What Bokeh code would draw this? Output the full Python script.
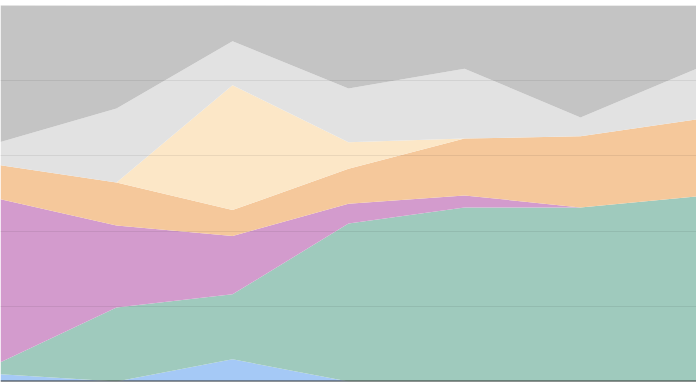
from bokeh.plotting import figure
from bokeh.models import ColumnDataSource, Range1d, Span
from bokeh.embed import file_html
from bokeh.resources import INLINE

# data (percent shares, stacked bottom -> top)
periods = [0, 1, 2, 3, 4, 5, 6]
blue = [1.9, 0.0, 5.9, 0.0, 0.0, 0.0, 0.0]
green = [3.2, 19.7, 17.3, 42.0, 46.3, 46.3, 49.2]
pink = [43.4, 21.8, 15.5, 5.3, 3.2, 0.0, 0.0]
orange = [9.0, 11.4, 6.9, 9.3, 15.1, 18.9, 20.5]
yellow = [0.0, 0.0, 33.2, 7.0, 0.0, 0.0, 0.0]
lightgray = [6.2, 19.7, 11.7, 14.3, 18.6, 5.0, 13.5]
darkgray = [36.4, 27.4, 9.6, 22.1, 16.8, 29.8, 16.8]

names = ["blue", "green", "pink", "orange", "yellow", "lightgray", "darkgray"]
colors = ["#a5c9f6", "#9fcabd", "#d39bcd", "#f5c89b", "#fce7c7", "#e2e2e2", "#c4c4c4"]

source = ColumnDataSource(dict(x=periods, blue=blue, green=green, pink=pink,
                               orange=orange, yellow=yellow,
                               lightgray=lightgray, darkgray=darkgray))

p = figure(width=696, height=385, output_backend="svg",
           toolbar_location=None,
           min_border_left=0, min_border_right=0,
           min_border_top=5, min_border_bottom=4,
           x_range=Range1d(0, 6), y_range=Range1d(0, 100),
           background_fill_color="white", border_fill_color="white")
p.outline_line_color = None
p.xaxis.visible = False
p.yaxis.visible = False

p.varea_stack(stackers=names, x="x", color=colors, source=source)

p.xgrid.visible = False
p.ygrid.ticker = [20, 40, 60, 80]
p.ygrid.grid_line_color = "#000000"
p.ygrid.grid_line_alpha = 0.07
p.ygrid.level = "overlay"

p.add_layout(Span(location=0, dimension="width", line_color="#333333", line_width=2))
p.add_layout(Span(location=100, dimension="width", line_color="#e6e6e6", line_width=1))

open("out.html", "w").write(file_html(p, INLINE))
